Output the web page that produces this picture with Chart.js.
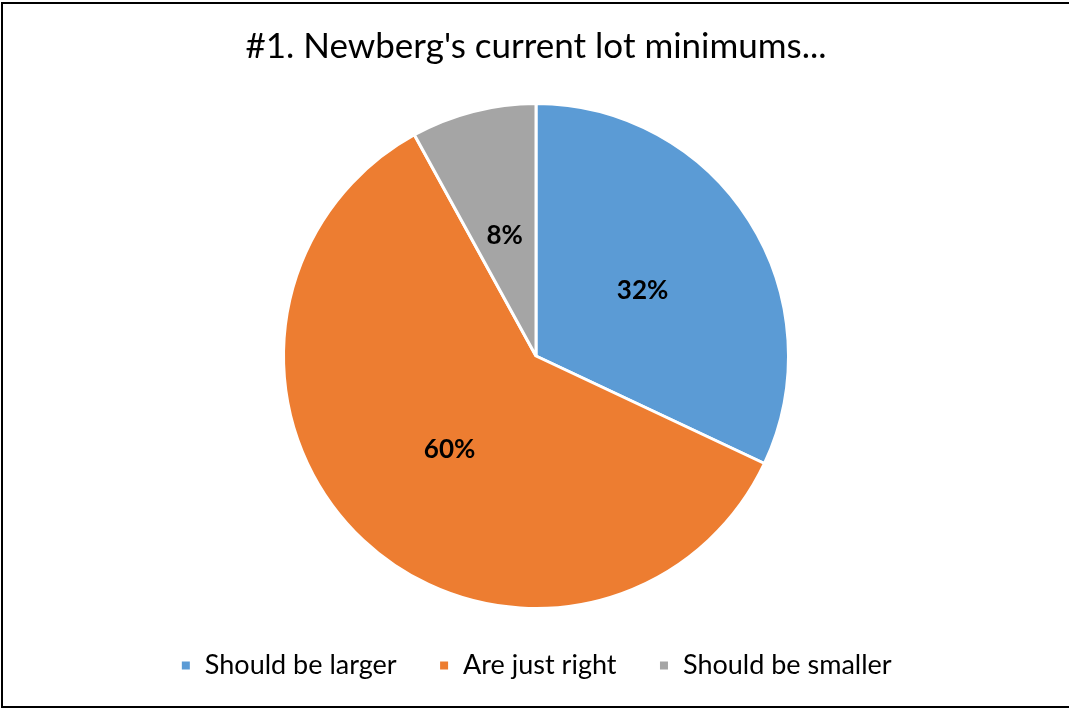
<!DOCTYPE html>
<html>
<head>
<meta charset="utf-8">
<script src="https://cdn.jsdelivr.net/npm/chart.js@4/dist/chart.umd.min.js"></script>
<style>
  html, body { margin: 0; padding: 0; background: #fff; }
  #wrap { width: 1069px; height: 709px; position: relative; }
</style>
</head>
<body>
<div id="wrap"><canvas id="lotChart"></canvas></div>
<script>
// ===== data =====
const titleText = "#1. Newberg's current lot minimums...";
const answers = ['Should be larger', 'Are just right', 'Should be smaller'];
const shares = [32, 60, 8];
const sliceColors = ['#5B9BD5', '#ED7D31', '#A5A5A5'];

// percentage labels in the middle of each slice
const sliceLabels = {
  id: 'sliceLabels',
  afterDatasetsDraw(chart) {
    const ctx = chart.ctx;
    const meta = chart.getDatasetMeta(0);
    ctx.save();
    ctx.font = 'bold 26px Lato, "Open Sans", sans-serif';
    ctx.fillStyle = '#000';
    ctx.textAlign = 'center';
    ctx.textBaseline = 'middle';
    meta.data.forEach((arc, i) => {
      const p = arc.tooltipPosition();
      ctx.fillText(shares[i] + '%', p.x, p.y + 2);
    });
    ctx.restore();
  }
};

// thin dark frame round the chart
const frame = {
  id: 'frame',
  afterDraw(chart) {
    const ctx = chart.ctx;
    ctx.save();
    ctx.strokeStyle = '#000';
    ctx.lineWidth = 2;
    ctx.strokeRect(2, 3, 1080, 704);
    ctx.restore();
  }
};

new Chart(document.getElementById('lotChart'), {
  type: 'pie',
  data: {
    labels: answers,
    datasets: [{
      data: shares,
      backgroundColor: sliceColors,
      borderColor: '#fff',
      borderWidth: 3,
      hoverOffset: 0
    }]
  },
  options: {
    responsive: true,
    maintainAspectRatio: false,
    animation: false,
    layout: { padding: { left: 3, right: 0, top: 0, bottom: 20 } },
    plugins: {
      title: {
        display: true,
        text: titleText,
        color: '#000',
        font: { family: 'Lato, "Open Sans", sans-serif', size: 35, weight: 'normal' },
        padding: { top: 26, bottom: 34 }
      },
      legend: {
        position: 'bottom',
        labels: {
          color: '#000',
          boxWidth: 11,
          boxHeight: 11,
          padding: 42,
          font: { family: 'Lato, "Open Sans", sans-serif', size: 27 }
        }
      },
      tooltip: { enabled: false }
    }
  },
  plugins: [sliceLabels, frame]
});
</script>
</body>
</html>
